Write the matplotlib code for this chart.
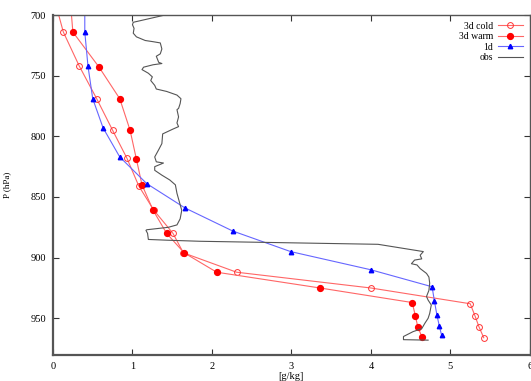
import matplotlib
matplotlib.use("Agg")
import matplotlib.pyplot as plt

# pressure levels [hPa] and specific humidity [g/kg]
p_cold = [690, 714, 742, 769, 795, 818, 841, 861, 880, 896, 912, 925, 938, 948, 957, 966]
q_cold = [0.03, 0.13, 0.33, 0.55, 0.75, 0.93, 1.08, 1.27, 1.51, 1.64, 2.31, 4.00, 5.25, 5.31, 5.36, 5.42]

p_warm = [690, 714, 743, 769, 795, 819, 840, 861, 880, 896, 912, 925, 937, 948, 957, 965]
q_warm = [0.22, 0.25, 0.58, 0.84, 0.97, 1.05, 1.12, 1.26, 1.43, 1.65, 2.06, 3.36, 4.52, 4.56, 4.59, 4.64]

p_1d = [690, 714, 742, 769, 793, 817, 839, 859, 878, 895, 910, 924, 936, 947, 956, 964]
q_1d = [0.40, 0.40, 0.44, 0.50, 0.63, 0.84, 1.18, 1.66, 2.26, 2.99, 4.00, 4.77, 4.80, 4.83, 4.86, 4.89]

p_obs = [700, 706, 708, 711, 715, 718, 721, 722, 723, 728, 732, 734, 739, 740, 741, 743,
         745, 748, 751, 754, 758, 761, 763, 766, 769, 773, 777, 778, 784, 789, 792, 794,
         798, 806, 811, 817, 821, 822, 825, 828, 832, 836, 840, 847, 854, 861, 868, 873,
         875, 877, 877.5, 880, 885, 885.6, 886.5, 889, 895, 898, 901, 902, 905, 906, 909,
         913, 916, 921, 927, 932, 935, 939, 946, 950, 954, 958.5, 961, 965, 967.6, 968]
q_obs = [1.41, 1.01, 1.00, 1.02, 1.01, 1.05, 1.16, 1.26, 1.35, 1.37, 1.35, 1.30, 1.33, 1.37, 1.26, 1.14,
         1.12, 1.20, 1.25, 1.23, 1.28, 1.30, 1.43, 1.56, 1.61, 1.60, 1.58, 1.56, 1.58, 1.56, 1.58, 1.51,
         1.38, 1.37, 1.33, 1.28, 1.30, 1.39, 1.28, 1.28, 1.37, 1.47, 1.54, 1.56, 1.59, 1.62, 1.60, 1.56,
         1.45, 1.18, 1.17, 1.19, 1.20, 1.43, 1.85, 4.09, 4.66, 4.62, 4.64, 4.55, 4.51, 4.58, 4.62,
         4.70, 4.73, 4.74, 4.73, 4.70, 4.72, 4.76, 4.74, 4.72, 4.68, 4.64, 4.53, 4.41, 4.41, 4.72]

plt.rcParams['font.family'] = ['Liberation Serif', 'DejaVu Serif']

fig = plt.figure(figsize=(5.31, 3.81), dpi=100)
ax = fig.add_axes([0.0998, 0.069, 0.898, 0.8916])

ax.plot(q_cold, p_cold, color='#ff6666', lw=0.8, marker='o', ms=4.2, mfc='none',
        mec='#ff3333', mew=0.7, label='3d cold')
ax.plot(q_warm, p_warm, color='#ff6666', lw=0.8, marker='o', ms=4.2, mfc='#ff0000',
        mec='#ff0000', label='3d warm')
ax.plot(q_1d, p_1d, color='#6666ff', lw=0.8, marker='^', ms=3.2, mfc='#0000ff',
        mec='#0000ff', label='1d')
ax.plot(q_obs, p_obs, color='#555555', lw=0.8, label='obs')

ax.set_xlim(0, 6)
ax.set_ylim(980, 700)
ax.set_xticks([0, 1, 2, 3, 4, 5, 6])
ax.set_yticks([700, 750, 800, 850, 900, 950])
ax.tick_params(direction='in', top=True, right=True, length=4, width=0.8,
               labelsize=7.5, colors='#333333', labelcolor='black', pad=5)
for s in ax.spines.values():
    s.set_color('#555555')
    s.set_linewidth(1.0)
ax.spines['left'].set_linewidth(1.6)
ax.spines['bottom'].set_linewidth(1.6)

ax.set_ylabel('P (hPa)', fontsize=6.5, labelpad=14)
ax.set_xlabel('[g/kg]', fontsize=7.5, labelpad=1)

ax.legend(loc='upper right', frameon=False, markerfirst=False, fontsize=7,
          handlelength=2.6, labelspacing=0.15, borderaxespad=0.3, handletextpad=0.5)

fig.savefig('out.png', dpi=100)
